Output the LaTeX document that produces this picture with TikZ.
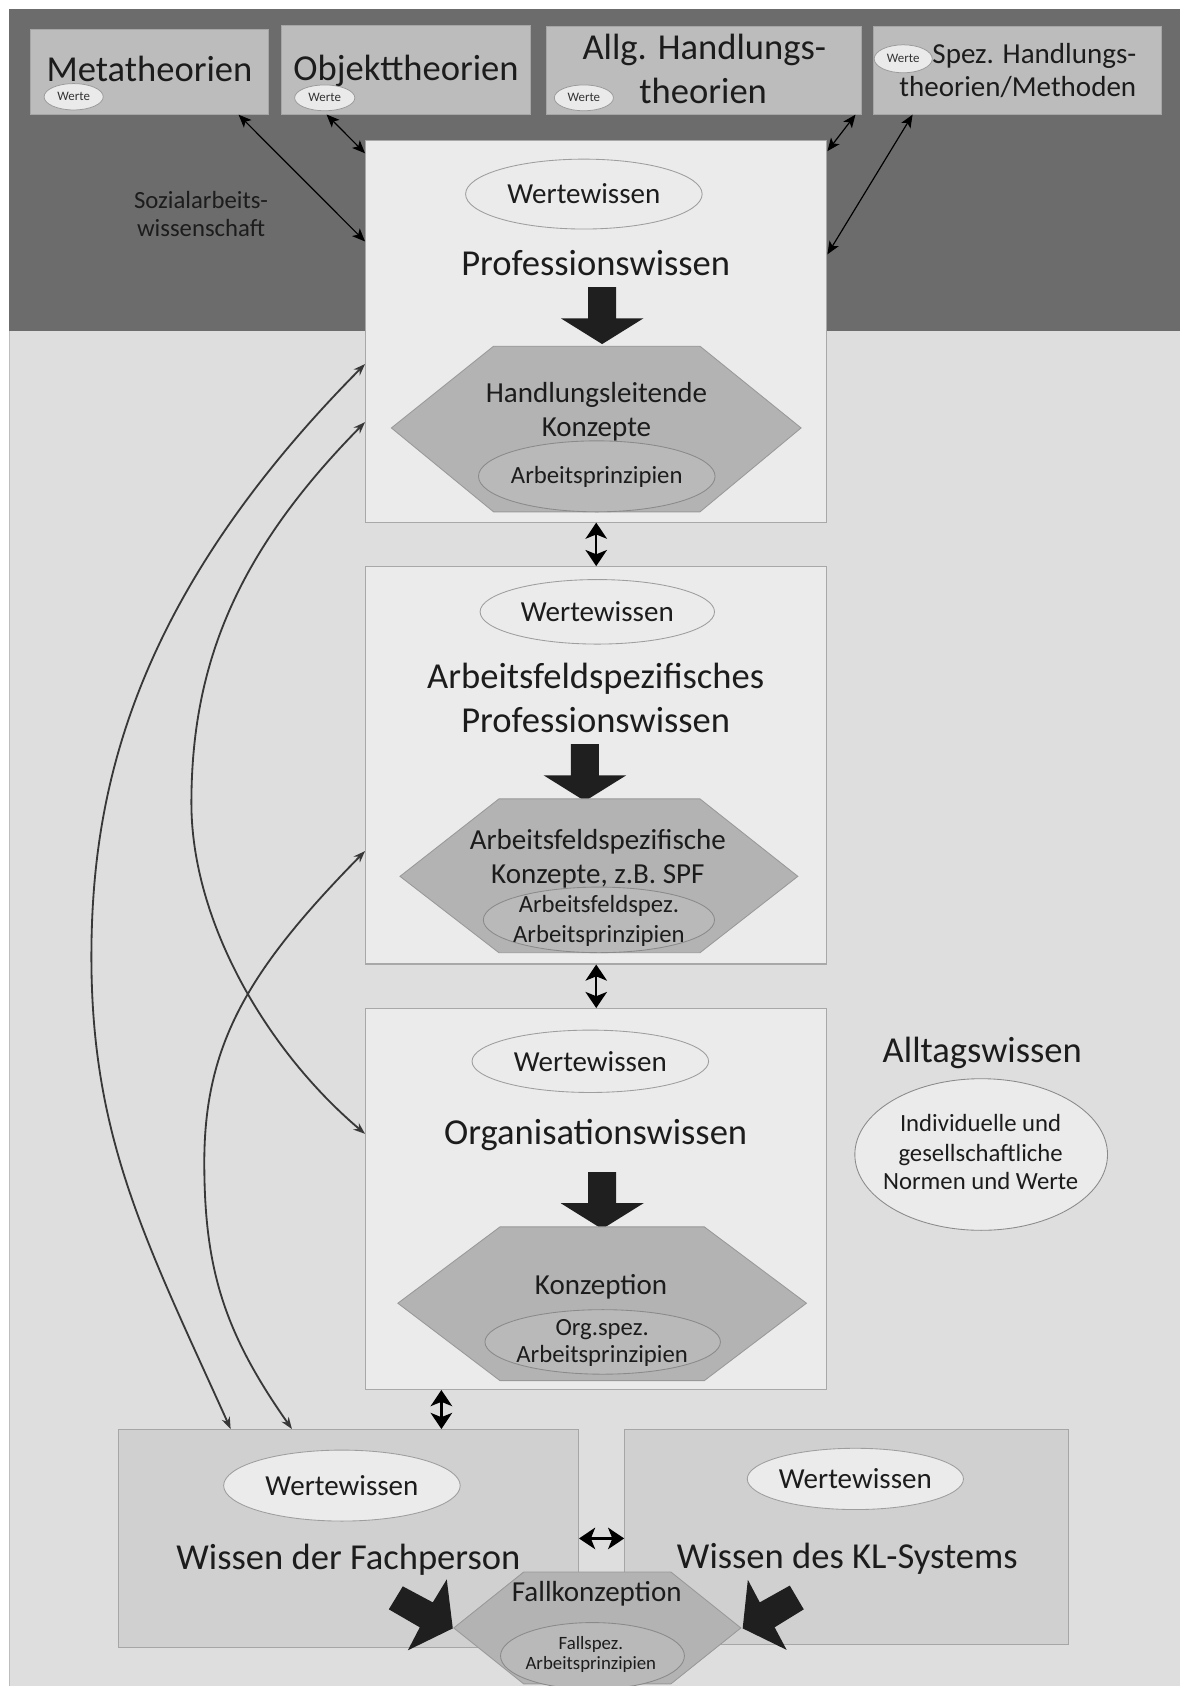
\documentclass[tikz,border=0pt]{standalone}
\usepackage{fontspec}
\setmainfont{Carlito}
\usetikzlibrary{shapes.geometric,arrows.meta}
\definecolor{darkbg}{HTML}{6C6C6C}
\definecolor{lightbg}{HTML}{DEDEDE}
\definecolor{lightedge}{HTML}{BDBDBD}
\definecolor{topfill}{HTML}{BCBCBC}
\definecolor{topdraw}{HTML}{A6A6A6}
\definecolor{mainfill}{HTML}{EBEBEB}
\definecolor{maindraw}{HTML}{A8A8A8}
\definecolor{botfill}{HTML}{D0D0D0}
\definecolor{botdraw}{HTML}{A6A6A6}
\definecolor{hexfill}{HTML}{B3B3B3}
\definecolor{hexdraw}{HTML}{999999}
\definecolor{inellfill}{HTML}{B9B9B9}
\definecolor{inelldraw}{HTML}{8A8A8A}
\definecolor{wwfill}{HTML}{EBEBEB}
\definecolor{wwdraw}{HTML}{9E9E9E}
\definecolor{wertefill}{HTML}{EAEAEA}
\definecolor{wertedraw}{HTML}{9A9A9A}
\definecolor{wertetext}{HTML}{333333}
\definecolor{textc}{HTML}{1C1C1C}
\definecolor{arrblack}{HTML}{1F1F1F}
\definecolor{curvec}{HTML}{383838}
\begin{document}
\begin{tikzpicture}[x=1pt,y=-1pt,
  txt/.style={inner sep=0pt, text=textc, anchor=base},
  f34/.style={font=\fontsize{34}{41}\selectfont},
  f27/.style={font=\fontsize{27}{32}\selectfont},
  f23/.style={font=\fontsize{23}{28}\selectfont},
  f18/.style={font=\fontsize{17.5}{21}\selectfont},
  topbox/.style={rectangle, fill=topfill, draw=topdraw, line width=0.8pt, inner sep=0pt},
  mainbox/.style={rectangle, fill=mainfill, draw=maindraw, line width=1pt, inner sep=0pt},
  botbox/.style={rectangle, fill=botfill, draw=botdraw, line width=1pt, inner sep=0pt},
  wwell/.style={ellipse, fill=wwfill, draw=wwdraw, line width=0.8pt, inner sep=0pt, text=textc, font=\fontsize{27}{32}\selectfont},
  werte/.style={ellipse, fill=wertefill, draw=wertedraw, line width=0.7pt, inner sep=0pt, text=wertetext, font=\fontsize{12}{14}\selectfont},
  inell/.style={ellipse, fill=inellfill, draw=inelldraw, line width=0.8pt, inner sep=0pt},
  alltagell/.style={ellipse, fill=mainfill, draw=inelldraw, line width=0.8pt, inner sep=0pt},
  hexa/.style={fill=hexfill, draw=hexdraw, line width=0.8pt},
  thinarr/.style={{Stealth[length=12pt,width=10pt,inset=3pt]}-{Stealth[length=12pt,width=10pt,inset=3pt]}, line width=1.1pt, draw=black},
  dblv/.style={{Stealth[length=15pt,width=20pt,inset=4pt]}-{Stealth[length=15pt,width=20pt,inset=4pt]}, line width=2.2pt, draw=black},
  curvarr/.style={{Stealth[length=11pt,width=8pt]}-{Stealth[length=11pt,width=8pt]}, line width=1.7pt, draw=curvec},
  bigdown/.pic={\fill[arrblack] (-13,0) -- (13,0) -- (13,29) -- (38.5,29) -- (0,53) -- (-38.5,29) -- (-13,29) -- cycle;}
]
\useasboundingbox (0,0) rectangle (1097,1568);
% backgrounds
\fill[white] (0,0) rectangle (1097,1568);
\fill[lightbg] (8,308) rectangle (1097,1568);
\draw[lightedge, line width=1pt] (8.5,308) -- (8.5,1568);
\fill[darkbg] (8,8) rectangle (1097,308);

% top boxes
\node[topbox, minimum width=221pt, minimum height=79pt] (meta) at (139,66.8) {};
\node[topbox, minimum width=232pt, minimum height=82pt] (obj) at (377.6,65.1) {};
\node[topbox, minimum width=293pt, minimum height=81.5pt] (allg) at (654.4,65.5) {};
\node[topbox, minimum width=268pt, minimum height=81.5pt] (spez) at (946.5,65.5) {};
\node[txt,f34] (metat) at (139,76) {Metatheorien};
\node[txt,f34] (objt) at (377.6,75.3) {Objekttheorien};
\node[txt,f34] (allgt1) at (655,55.8) {Allg. Handlungs-};
\node[txt,f34] (allgt2) at (654,96) {theorien};
\node[txt,f27] (spezt1) at (962,58.9) {Spez. Handlungs-};
\node[txt,f27] (spezt2) at (946.6,89.9) {theorien/Methoden};
\node[werte, minimum width=55pt, minimum height=24.5pt] (w1) at (68.5,90) {Werte};
\node[werte, minimum width=56pt, minimum height=24pt] (w2) at (302,91) {Werte};
\node[werte, minimum width=55pt, minimum height=24pt] (w3) at (543,91) {Werte};
\node[werte, minimum width=54pt, minimum height=26pt] (w4) at (840,54.7) {Werte};
\node[txt,f23] (saw1) at (187,193.7) {Sozialarbeits-};
\node[txt,f23] (saw2) at (187,220) {wissenschaft};

% main boxes
\node[mainbox, minimum width=429pt, minimum height=354.5pt] (prof) at (554.5,308.3) {};
\node[mainbox, minimum width=429pt, minimum height=369.5pt] (arbf) at (554.5,711.75) {};
\node[mainbox, minimum width=429pt, minimum height=354.2pt] (org) at (554.5,1115.1) {};

% Professionswissen
\node[wwell, minimum width=220pt, minimum height=65pt] (pww) at (543,180.5) {Wertewissen};
\node[txt,f34] (pt) at (554,256.6) {Professionswissen};
\pic at (560,267) {bigdown};
\filldraw[hexa] (364,398) -- (459,322) -- (651,322) -- (745,398) -- (651,476) -- (459,476) -- cycle;
\node[txt,f27] (ph1) at (554.7,374.3) {Handlungsleitende};
\node[txt,f27] (ph2) at (554.7,406) {Konzepte};
\node[inell, minimum width=220pt, minimum height=66pt] (pe) at (555,443) {};
\node[txt,f23] (pet) at (555,449.3) {Arbeitsprinzipien};

% Arbeitsfeldspezifisches Professionswissen
\node[wwell, minimum width=218pt, minimum height=60pt] (aww) at (555.5,569) {Wertewissen};
\node[txt,f34] (at1) at (554,640) {Arbeitsfeldspezifisches};
\node[txt,f34] (at2) at (554,681) {Professionswissen};
\pic at (544,692) {bigdown};
\filldraw[hexa] (372,815) -- (464,743) -- (651,743) -- (742,815) -- (651,886) -- (464,886) -- cycle;
\node[txt,f27] (ah1) at (556,790.2) {Arbeitsfeldspezifische};
\node[txt,f27] (ah2) at (556,821.2) {Konzepte, z.B. SPF};
\node[inell, minimum width=215pt, minimum height=61pt] (ae) at (557,855.5) {};
\node[txt,f23] (aet1) at (557,849) {Arbeitsfeldspez.};
\node[txt,f23] (aet2) at (557,876.3) {Arbeitsprinzipien};

% Organisationswissen
\node[wwell, minimum width=220pt, minimum height=58pt] (oww) at (549,987) {Wertewissen};
\node[txt,f34] (ot) at (554,1064) {Organisationswissen};
\pic at (560,1090) {bigdown};
\filldraw[hexa] (370,1212) -- (465,1141) -- (655,1141) -- (750,1212) -- (655,1284) -- (465,1284) -- cycle;
\node[txt,f27] (oh) at (559,1203.9) {Konzeption};
\node[inell, minimum width=219pt, minimum height=60pt] (oe) at (560.5,1248) {};
\node[txt,f23] (oet1) at (560,1241.7) {Org.spez.};
\node[txt,f23] (oet2) at (560,1267.4) {Arbeitsprinzipien};

% Alltagswissen
\node[txt,f34] (alt) at (913.5,988.5) {Alltagswissen};
\node[alltagell, minimum width=235pt, minimum height=141pt] (ale) at (912.5,1073.7) {};
\node[txt,f23] (al1) at (912,1052) {Individuelle und};
\node[txt,f23] (al2) at (912,1080) {gesellschaftliche};
\node[txt,f23] (al3) at (912,1106.3) {Normen und Werte};

% bottom boxes
\node[botbox, minimum width=428pt, minimum height=202.5pt] (fach) at (324,1430.75) {};
\node[botbox, minimum width=413pt, minimum height=199.5pt] (kl) at (787.5,1429.25) {};
\node[wwell, minimum width=220pt, minimum height=66pt] (fww) at (318,1381.6) {Wertewissen};
\node[wwell, minimum width=190pt, minimum height=57pt] (kww) at (795.5,1375.4) {Wertewissen};
\node[txt,f34] (ft) at (324,1459.5) {Wissen der Fachperson};
\node[txt,f34] (kt) at (788,1459) {Wissen des KL-Systems};

% Fallkonzeption
\filldraw[hexa] (422,1514) -- (487,1462) -- (624,1462) -- (689,1514) -- (624,1566) -- (487,1566) -- cycle;
\node[txt,f27] (fkt) at (555,1489) {Fallkonzeption};
\node[inell, minimum width=171pt, minimum height=62pt] (fke) at (551,1540) {};
\node[txt,f18] (fk1) at (549.5,1534) {Fallspez.};
\node[txt,f18] (fk2) at (549.5,1552.5) {Arbeitsprinzipien};

% notched black arrows into Fallkonzeption
\fill[arrblack] (421.1,1514.4) -- (415.5,1468.8) -- (402.5,1490.2) -- (374.6,1475.3) -- (361.6,1496.7) -- (390.4,1513.4) -- (379.3,1534.8) -- cycle;
\fill[arrblack] (690.7,1514.4) -- (695.5,1469.2) -- (706.6,1490.2) -- (734.5,1474.6) -- (747.5,1496.7) -- (720.4,1513.4) -- (731.6,1534.4) -- cycle;

% top thin arrows
\draw[thinarr] ([xshift=-28pt]meta.south east) -- ([yshift=-94pt]prof.north west);
\draw[thinarr] ([xshift=42.5pt]obj.south west) -- ([yshift=-12pt]prof.north west);
\draw[thinarr] ([xshift=-5.7pt]allg.south east) -- ([yshift=-10pt]prof.north east);
\draw[thinarr] ([xshift=36.6pt]spez.south west) -- ([yshift=-106pt]prof.north east);

% vertical / horizontal double arrows
\draw[dblv] (prof.south) -- (arbf.north);
\draw[dblv] (arbf.south) -- (org.north);
\draw[dblv] ([xshift=71pt]org.south west) -- ([xshift=71pt]org.south west |- fach.north);
\draw[dblv] (fach.east) -- (fach.east -| kl.west);

% curved arrows on the left
\coordinate (v1) at (85,890);
\coordinate (v2) at (178,747);
\coordinate (v3) at (190,1081);
\draw[curvarr] ([yshift=-208pt]prof.north west) .. controls (121,559) and (85,740) .. (v1) .. controls (85,1060) and (137,1157) .. ([xshift=105pt]fach.north west);
\draw[curvarr] ([yshift=-262pt]prof.north west) .. controls (221,513) and (178,617) .. (v2) .. controls (178,857) and (248,977) .. ([yshift=-117pt]org.north west);
\draw[curvarr] ([yshift=-265pt]arbf.north west) .. controls (231,902) and (190,971) .. (v3) .. controls (190,1181) and (209,1240) .. ([xshift=162pt]fach.north west);
\end{tikzpicture}
\end{document}
